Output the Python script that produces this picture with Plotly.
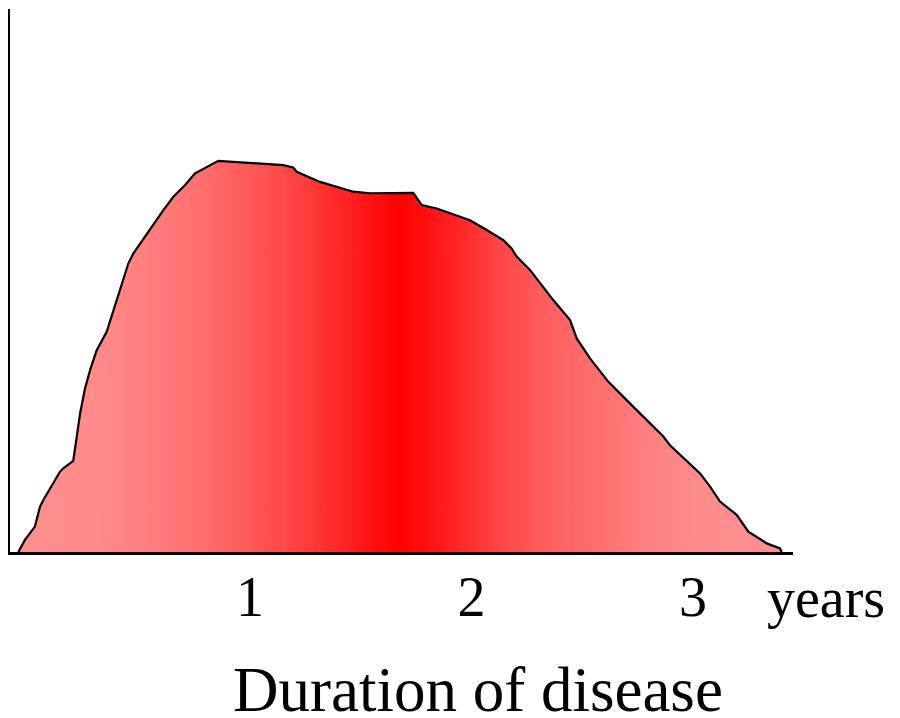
import plotly.graph_objects as go

# Duration of disease (years) and relative frequency (% of peak)
years = [-0.046, -0.016, 0.029, 0.052, 0.067, 0.142, 0.157, 0.202, 0.233, 0.255, 0.278,
         0.308, 0.353, 0.398, 0.451, 0.473, 0.534, 0.609, 0.654, 0.707, 0.752, 0.857,
         1.150, 1.195, 1.211, 1.316, 1.466, 1.542, 1.737, 1.775, 1.843, 1.993, 2.069,
         2.144, 2.181, 2.204, 2.264, 2.324, 2.369, 2.445, 2.475, 2.535, 2.618, 2.731,
         2.866, 2.896, 3.032, 3.077, 3.122, 3.197, 3.250, 3.333, 3.393, 3.400]
frequency = [0, 3.1, 6.5, 11.6, 13.3, 20.5, 21.4, 23.3, 35.4, 41.8, 46.5,
             51.6, 56.3, 64.4, 73.8, 76.3, 81.4, 87.4, 90.8, 93.8, 96.8, 100,
             98.9, 98.3, 97.2, 94.6, 92.1, 91.7, 91.8, 88.7, 87.8, 84.8, 82.3,
             79.7, 77.6, 75.5, 72.1, 67.8, 64.4, 59.3, 54.6, 49.5, 43.5, 37.1,
             29.5, 27.3, 20.1, 16.7, 12.9, 9.5, 5.2, 2.2, 0.9, 0]

tick_values = [1, 2, 3]
tick_labels = ["1", "2", "3"]
unit_label = "years"
axis_title = "Duration of disease"

gradient = [[0.0, "#FF9090"], [0.107, "#FF8A8A"], [0.238, "#FF7070"], [0.369, "#FF4040"],
            [0.5, "#FF0000"], [0.565, "#FF2020"], [0.631, "#FF4545"], [0.696, "#FF6060"],
            [0.762, "#FF7070"], [0.827, "#FF8080"], [0.893, "#FF8C8C"], [1.0, "#FF9090"]]

font_family = "Liberation Serif, Times New Roman, serif"

fig = go.Figure()
fig.add_trace(go.Scatter(
    x=years, y=frequency, mode="lines",
    line=dict(color="black", width=2.2),
    fill="tozeroy",
    fillgradient=dict(type="horizontal", colorscale=gradient,
                      start=years[0], stop=years[-1]),
    hoverinfo="skip", showlegend=False,
))

fig.update_layout(
    width=892, height=710,
    margin=dict(l=2, r=107, t=1, b=166),
    paper_bgcolor="white", plot_bgcolor="white",
    font=dict(family=font_family, color="black"),
    xaxis=dict(range=[-0.0835, 3.4515], showgrid=False, zeroline=False,
               showline=True, linecolor="black", linewidth=2.5,
               tickvals=tick_values, ticktext=tick_labels, ticks="",
               tickfont=dict(size=56, family=font_family, color="black"),
               ticklabelstandoff=-6),
    yaxis=dict(range=[0, 138.8], showgrid=False, zeroline=False,
               showline=True, linecolor="black", linewidth=2,
               showticklabels=False, ticks=""),
    annotations=[
        dict(text=unit_label, x=1.042, y=-0.0847, xref="paper", yref="paper",
             xanchor="center", yanchor="middle", showarrow=False,
             font=dict(size=56, family=font_family, color="black")),
        dict(text=axis_title, x=(470 - 2) / 783, y=-0.254, xref="paper", yref="paper",
             showarrow=False, xanchor="center", yanchor="middle",
             font=dict(size=63, family=font_family, color="black")),
    ],
)

fig.write_html("out.html")
